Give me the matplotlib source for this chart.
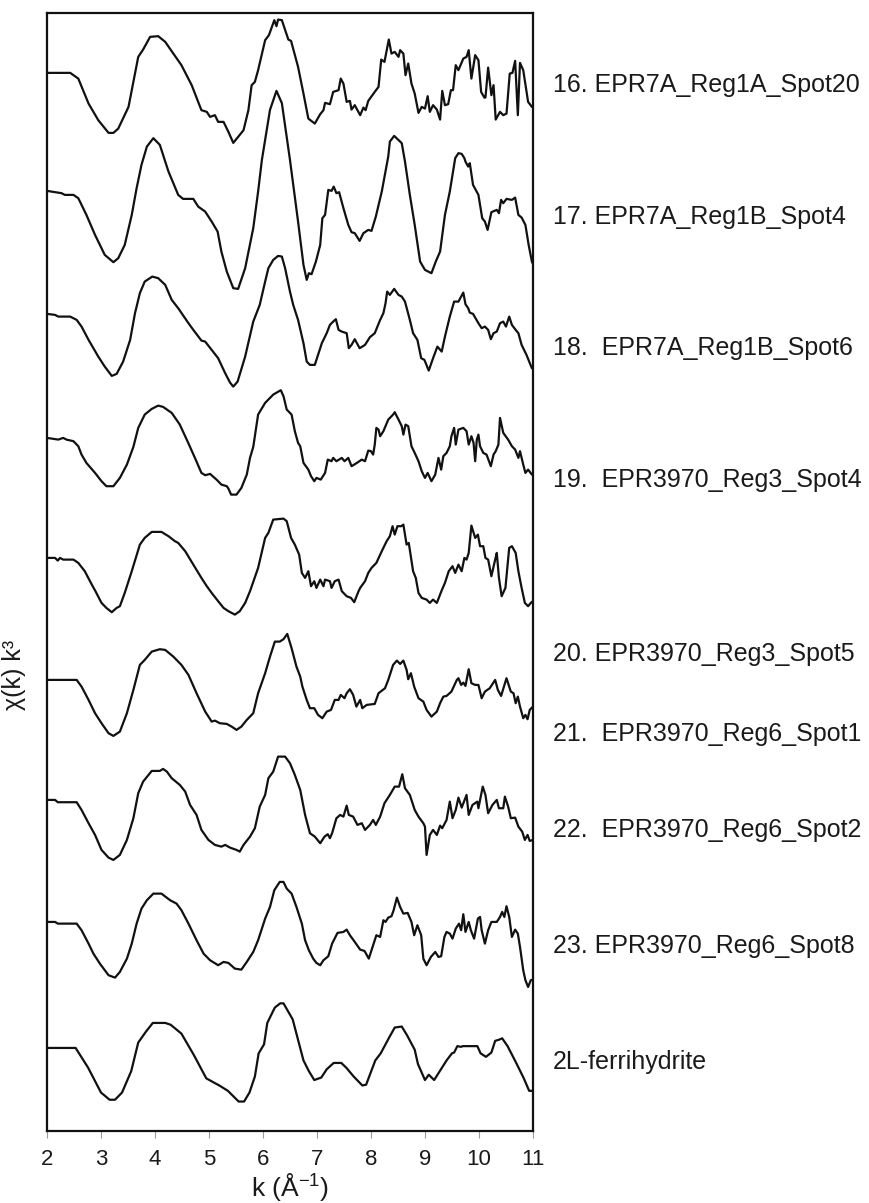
import numpy as np
import matplotlib
matplotlib.use('Agg')
import matplotlib.pyplot as plt

plt.rcParams['font.family'] = ['Liberation Sans', 'DejaVu Sans']
plt.rcParams['mathtext.fontset'] = 'custom'
plt.rcParams['mathtext.rm'] = 'Liberation Sans'
plt.rcParams['mathtext.it'] = 'Liberation Sans:italic'

# --------------------------------------------------------------------------- #
# chi(k) k^3 traces as (k, chi) samples, each relative to its own k=2 level
spec_16 = [(2.00, 0), (2.43, 0), (2.58, -0.57), (2.77, -3.07), (2.95, -4.73), (3.14, -6.0), (3.23, -6.0),
           (3.32, -5.57), (3.51, -3.4), (3.69, 1.6), (3.78, 2.33), (3.91, 3.6), (4.06, 3.67), (4.19, 3.1),
           (4.34, 1.93), (4.49, 0.77), (4.68, -1.23), (4.86, -3.73), (4.96, -3.9), (5.02, -4.4), (5.11, -4.23),
           (5.17, -4.9), (5.27, -4.9), (5.36, -5.9), (5.45, -7.0), (5.54, -6.4), (5.64, -5.73), (5.73, -3.73),
           (5.79, -1.23), (5.85, -0.9), (5.91, 0.27), (6.04, 3.27), (6.11, 3.77), (6.21, 5.27), (6.25, 4.67),
           (6.28, 5.33), (6.35, 5.27), (6.47, 3.33), (6.52, 3.2), (6.65, 0.6), (6.75, -2.07), (6.84, -4.57),
           (6.96, -5.07), (7.06, -4.13), (7.12, -3.73), (7.15, -3.0), (7.24, -3.13), (7.30, -1.9), (7.40, -1.73),
           (7.44, -0.57), (7.49, -1.07), (7.55, -2.9), (7.61, -2.8), (7.64, -3.67), (7.70, -3.23), (7.80, -4.23),
           (7.86, -3.47), (7.90, -3.73), (7.95, -2.8), (8.07, -1.9), (8.14, -1.4), (8.19, 1.33), (8.25, 1.1),
           (8.33, 3.33), (8.38, 1.93), (8.44, 2.1), (8.51, 1.6), (8.54, 2.27), (8.60, 1.93), (8.64, -0.23),
           (8.69, 0.93), (8.75, -1.07), (8.81, -2.07), (8.88, -4.0), (8.94, -3.4), (9.00, -3.57), (9.05, -2.33),
           (9.09, -3.9), (9.15, -3.23), (9.22, -3.67), (9.28, -4.67), (9.32, -1.8), (9.37, -3.23), (9.43, -3.13),
           (9.48, -1.73), (9.52, -1.73), (9.57, 0.77), (9.62, 0.27), (9.71, 1.43), (9.77, 1.6), (9.81, 2.27),
           (9.86, -0.57), (9.93, 1.77), (9.99, 1.27), (10.04, -1.9), (10.10, -2.47), (10.12, -2.47), (10.17, 0.53),
           (10.23, -2.23), (10.27, -1.23), (10.31, -4.67), (10.39, -3.9), (10.45, -4.23), (10.51, -4.07),
           (10.57, -0.07), (10.62, 0), (10.67, 1.2), (10.72, -4.23), (10.76, 1.0), (10.82, 0.27), (10.91, -2.9),
           (10.98, -3.4), (11.00, -3.4)]

spec_17 = [(2.00, 0), (2.27, -0.23), (2.33, -0.4), (2.49, -0.4), (2.58, -0.73), (2.73, -2.4), (2.89, -4.4),
           (2.98, -5.4), (3.07, -6.4), (3.23, -7.13), (3.32, -6.73), (3.44, -5.4), (3.57, -2.4), (3.66, 0.27),
           (3.75, 2.6), (3.85, 4.43), (3.97, 5.27), (4.09, 4.6), (4.15, 3.6), (4.25, 1.93), (4.34, 0.77),
           (4.43, -0.4), (4.52, -0.8), (4.71, -0.8), (4.80, -1.57), (4.93, -2.07), (5.05, -3.07), (5.16, -4.07),
           (5.23, -6.07), (5.33, -8.07), (5.45, -9.73), (5.54, -9.8), (5.67, -7.73), (5.82, -3.73), (5.91, -0.07),
           (5.98, 3.1), (6.13, 8.1), (6.25, 10.0), (6.35, 8.77), (6.50, 3.1), (6.65, -3.07), (6.75, -7.4),
           (6.81, -8.9), (6.85, -8.23), (6.90, -8.33), (6.98, -7.07), (7.06, -5.4), (7.10, -2.73), (7.15, -2.4),
           (7.21, 0.1), (7.27, 0), (7.31, 0.43), (7.36, -0.23), (7.41, -0.13), (7.49, -1.73), (7.58, -3.4),
           (7.64, -4.13), (7.70, -4.23), (7.79, -5.0), (7.86, -4.23), (7.95, -3.9), (8.01, -4.0), (8.09, -2.57),
           (8.20, -0.07), (8.32, 3.43), (8.35, 4.93), (8.43, 5.5), (8.57, 4.77), (8.63, 2.93), (8.72, -0.4),
           (8.81, -3.4), (8.91, -7.07), (9.00, -7.9), (9.12, -8.23), (9.20, -7.07), (9.28, -6.07), (9.37, -2.4),
           (9.46, -0.07), (9.56, 3.27), (9.62, 3.77), (9.68, 3.7), (9.73, 3.27), (9.75, 2.93), (9.80, 2.43),
           (9.83, 2.77), (9.89, 0.6), (9.99, -0.4), (10.06, -2.73), (10.11, -3.07), (10.16, -3.9), (10.23, -2.13),
           (10.33, -1.9), (10.37, -2.23), (10.41, -0.9), (10.45, -1.23), (10.51, -0.8), (10.61, -0.9),
           (10.67, -0.67), (10.73, -2.4), (10.79, -2.67), (10.86, -3.4), (10.92, -5.4), (10.98, -7.07), (11.00, -7.3)]

spec_18 = [(2.00, 0.1), (2.15, 0), (2.21, -0.17), (2.43, -0.17), (2.55, -0.5), (2.64, -1.17), (2.77, -2.5),
           (2.95, -4.17), (3.07, -5.17), (3.20, -6.1), (3.29, -5.9), (3.41, -4.67), (3.54, -2.5), (3.63, 0.17),
           (3.72, 2.17), (3.81, 3.33), (3.95, 3.83), (4.06, 3.67), (4.19, 3.0), (4.31, 1.5), (4.43, 0.67),
           (4.62, -0.83), (4.71, -1.5), (4.86, -2.57), (4.93, -2.67), (5.05, -3.5), (5.17, -4.33), (5.30, -5.83),
           (5.39, -6.77), (5.45, -7.17), (5.53, -6.67), (5.67, -4.17), (5.82, -0.67), (5.94, 1.0), (6.04, 3.33),
           (6.10, 4.67), (6.19, 5.5), (6.28, 5.9), (6.35, 5.83), (6.41, 4.67), (6.50, 2.33), (6.56, 1.0),
           (6.65, -0.5), (6.75, -2.83), (6.81, -4.67), (6.87, -5.0), (6.96, -5.0), (7.09, -2.83), (7.18, -1.83),
           (7.24, -1.0), (7.30, -0.67), (7.35, -0.43), (7.40, -1.5), (7.46, -1.67), (7.55, -1.83), (7.59, -3.33),
           (7.64, -3.0), (7.70, -2.43), (7.79, -3.33), (7.89, -3.0), (7.98, -2.23), (8.07, -1.83), (8.17, -0.5),
           (8.23, 0.17), (8.27, 1.17), (8.30, 2.33), (8.35, 2.0), (8.43, 2.6), (8.51, 2.0), (8.57, 1.83),
           (8.63, 1.33), (8.72, -0.5), (8.78, -1.83), (8.86, -2.5), (8.93, -4.33), (8.99, -4.5), (9.07, -5.57),
           (9.15, -4.33), (9.23, -3.17), (9.31, -3.67), (9.37, -2.17), (9.46, -0.17), (9.54, 1.33), (9.62, 1.33),
           (9.71, 2.23), (9.75, 1.07), (9.80, 0.67), (9.83, 0.23), (9.89, 0.1), (9.99, -0.83), (10.05, -1.33),
           (10.11, -1.17), (10.17, -1.5), (10.22, -2.43), (10.27, -1.83), (10.33, -1.67), (10.39, -0.83),
           (10.45, -0.67), (10.50, -1.17), (10.56, -0.17), (10.61, -1.0), (10.67, -1.43), (10.73, -1.83),
           (10.79, -3.0), (10.88, -4.0), (10.98, -5.33), (11.00, -5.4)]

spec_19 = [(2.00, 0), (2.21, -0.17), (2.30, 0), (2.36, -0.17), (2.49, -0.33), (2.58, -0.83), (2.64, -1.67),
           (2.73, -2.5), (2.89, -3.5), (3.01, -4.33), (3.10, -4.83), (3.23, -4.83), (3.35, -4.0), (3.48, -2.67),
           (3.60, -0.9), (3.69, 1.0), (3.81, 2.33), (3.94, 2.9), (4.06, 3.23), (4.15, 3.1), (4.31, 2.5),
           (4.46, 1.33), (4.62, -0.55), (4.74, -2.0), (4.86, -3.5), (4.93, -3.73), (5.02, -3.6), (5.14, -4.17),
           (5.23, -4.67), (5.33, -4.83), (5.36, -5.07), (5.41, -5.67), (5.51, -5.67), (5.60, -5.0), (5.70, -3.67),
           (5.76, -2.0), (5.82, -0.9), (5.91, 2.33), (6.04, 3.5), (6.19, 4.33), (6.33, 4.77), (6.38, 4.17),
           (6.44, 2.83), (6.53, 2.33), (6.59, 0.67), (6.65, -0.5), (6.69, -0.83), (6.75, -2.5), (6.84, -3.17),
           (6.89, -3.83), (6.95, -4.33), (6.99, -4.0), (7.07, -4.17), (7.15, -3.5), (7.20, -2.17), (7.27, -2.33),
           (7.30, -2.0), (7.36, -2.33), (7.46, -2.0), (7.51, -2.33), (7.58, -2.0), (7.64, -2.83), (7.74, -2.5),
           (7.83, -2.17), (7.89, -2.33), (7.95, -1.27), (8.00, -1.33), (8.04, -1.67), (8.07, -0.67), (8.10, 1.0),
           (8.14, 0.83), (8.17, 0.17), (8.23, 0.67), (8.32, 1.83), (8.41, 2.33), (8.44, 2.57), (8.51, 1.83),
           (8.57, 1.17), (8.60, 0.33), (8.64, 1.33), (8.69, 1.17), (8.75, -0.83), (8.81, -1.5), (8.88, -2.33),
           (8.94, -3.33), (9.00, -4.0), (9.05, -3.5), (9.12, -4.33), (9.19, -3.67), (9.25, -2.0), (9.30, -3.17),
           (9.34, -1.83), (9.40, -1.5), (9.46, -0.83), (9.49, 0.17), (9.54, 1.0), (9.57, -0.67), (9.62, 0.83),
           (9.71, 1.0), (9.77, 0.67), (9.81, -0.67), (9.86, 0.17), (9.90, -0.5), (9.93, -2.33), (9.96, -0.17),
           (9.99, 0.33), (10.02, -0.83), (10.08, -1.5), (10.14, -1.67), (10.22, -2.83), (10.27, -1.67),
           (10.31, -1.33), (10.36, -0.67), (10.39, 2.0), (10.45, 0.5), (10.54, -0.17), (10.61, -0.83),
           (10.67, -1.17), (10.73, -2.0), (10.76, -1.33), (10.82, -2.67), (10.86, -3.5), (10.91, -3.17),
           (10.98, -3.67), (11.00, -3.7)]

spec_20 = [(2.00, 0), (2.15, 0), (2.20, -0.27), (2.24, 0), (2.30, -0.17), (2.49, -0.17), (2.58, -0.5),
           (2.70, -1.33), (2.83, -2.67), (2.89, -3.25), (3.01, -4.5), (3.10, -5.0), (3.20, -5.43), (3.29, -5.0),
           (3.35, -4.83), (3.44, -3.5), (3.57, -1.33), (3.72, 1.33), (3.81, 2.0), (3.94, 2.6), (4.12, 2.6),
           (4.25, 2.17), (4.37, 1.67), (4.43, 1.5), (4.56, 0.67), (4.71, -0.67), (4.86, -2.0), (4.96, -2.83),
           (5.05, -3.5), (5.17, -4.33), (5.27, -5.0), (5.36, -5.33), (5.48, -5.67), (5.57, -5.33), (5.67, -4.5),
           (5.76, -3.33), (5.91, -1.0), (6.04, 2.0), (6.10, 2.5), (6.19, 3.83), (6.38, 3.93), (6.44, 3.67),
           (6.52, 2.0), (6.59, 1.33), (6.67, 0.33), (6.72, -1.5), (6.78, -2.0), (6.84, -1.33), (6.89, -2.83),
           (6.95, -2.33), (6.99, -3.0), (7.06, -2.17), (7.12, -2.83), (7.15, -2.17), (7.24, -2.33), (7.27, -3.0),
           (7.33, -2.33), (7.40, -2.17), (7.46, -3.33), (7.55, -3.83), (7.63, -4.0), (7.69, -4.43), (7.77, -3.33),
           (7.80, -3.0), (7.89, -2.33), (7.95, -1.5), (8.01, -1.0), (8.10, -0.5), (8.20, 0.67), (8.29, 1.67),
           (8.35, 2.17), (8.40, 3.17), (8.44, 2.33), (8.49, 3.17), (8.56, 3.17), (8.60, 3.33), (8.66, 1.33),
           (8.70, 1.5), (8.78, -1.33), (8.83, -2.0), (8.88, -3.5), (8.94, -4.0), (9.03, -4.17), (9.09, -4.5),
           (9.15, -4.17), (9.22, -4.5), (9.31, -3.25), (9.37, -2.5), (9.44, -1.33), (9.51, -0.83), (9.56, -1.5),
           (9.62, -0.67), (9.68, -1.33), (9.73, 0), (9.77, -0.17), (9.81, 0.5), (9.86, 3.23), (9.93, 2.0),
           (9.98, 2.33), (10.02, 1.17), (10.08, 1.17), (10.12, 0), (10.17, -0.17), (10.23, -1.83), (10.30, -0.17),
           (10.33, 0.5), (10.37, -2.0), (10.42, -3.83), (10.49, -3.0), (10.56, 1.0), (10.61, 1.17), (10.68, 0.5),
           (10.73, -1.33), (10.79, -3.0), (10.85, -4.5), (10.91, -4.83), (10.96, -4.5), (11.00, -4.33)]

spec_21 = [(2.00, 0), (2.55, 0), (2.64, -0.67), (2.77, -2.0), (2.89, -3.33), (3.01, -4.33), (3.14, -5.33),
           (3.23, -5.6), (3.35, -5.17), (3.48, -3.33), (3.60, -1.0), (3.72, 1.5), (3.81, 2.0), (3.94, 2.83),
           (4.09, 3.07), (4.19, 3.0), (4.34, 2.33), (4.49, 1.5), (4.62, 0.5), (4.77, -1.33), (4.93, -3.17),
           (5.05, -4.17), (5.11, -4.07), (5.20, -4.33), (5.33, -4.4), (5.42, -4.67), (5.51, -5.0), (5.60, -4.67),
           (5.70, -4.0), (5.82, -3.33), (5.91, -1.33), (6.04, 0.67), (6.13, 2.33), (6.22, 3.83), (6.31, 3.83),
           (6.38, 4.07), (6.45, 4.6), (6.53, 3.17), (6.62, 1.33), (6.69, 0.33), (6.73, -0.67), (6.81, -2.0),
           (6.87, -2.83), (6.95, -2.83), (7.02, -3.5), (7.10, -3.83), (7.18, -3.17), (7.26, -3.0), (7.33, -2.0),
           (7.40, -2.0), (7.44, -1.5), (7.51, -1.83), (7.55, -1.33), (7.61, -0.93), (7.67, -1.5), (7.73, -2.67),
           (7.80, -2.0), (7.84, -2.83), (7.92, -2.5), (8.07, -2.4), (8.14, -1.33), (8.26, -0.83), (8.32, 0),
           (8.41, 1.5), (8.48, 1.93), (8.54, 1.6), (8.60, 1.93), (8.66, 1.0), (8.69, 0.07), (8.74, 0.67),
           (8.80, -0.67), (8.88, -1.83), (8.97, -2.17), (9.03, -3.0), (9.12, -3.67), (9.22, -3.17), (9.28, -2.33),
           (9.34, -1.67), (9.40, -1.6), (9.49, -1.17), (9.59, 0), (9.62, 0.17), (9.67, -0.5), (9.71, -0.27),
           (9.75, -0.6), (9.81, 1.07), (9.86, -0.33), (9.93, -0.5), (9.99, -0.5), (10.05, -1.83), (10.11, -1.17),
           (10.20, -0.83), (10.30, 0), (10.35, -1.0), (10.41, -1.6), (10.51, 0.17), (10.59, -1.17),
           (10.64, -1.33), (10.68, -2.33), (10.72, -1.67), (10.76, -2.67), (10.82, -3.83), (10.86, -3.5),
           (10.90, -3.93), (10.94, -3.0), (11.00, -2.67)]

spec_22 = [(2.00, 0), (2.15, 0), (2.20, -0.23), (2.55, -0.23), (2.64, -1.0), (2.77, -2.33), (2.89, -3.5),
           (3.01, -5.0), (3.14, -5.77), (3.23, -6.0), (3.35, -5.5), (3.48, -4.0), (3.60, -1.83), (3.69, 0.67),
           (3.78, 1.83), (3.94, 2.9), (4.09, 2.9), (4.15, 3.1), (4.22, 2.83), (4.31, 2.17), (4.46, 1.5),
           (4.56, 0.83), (4.65, -0.5), (4.77, -1.5), (4.86, -3.0), (4.99, -4.0), (5.11, -4.5), (5.23, -4.67),
           (5.30, -4.5), (5.39, -4.77), (5.51, -5.0), (5.57, -5.17), (5.64, -4.5), (5.76, -3.67), (5.85, -2.83),
           (5.94, -0.67), (6.04, 0.5), (6.10, 2.17), (6.19, 2.83), (6.28, 4.33), (6.41, 4.33), (6.50, 3.67),
           (6.59, 2.5), (6.69, 1.0), (6.78, -1.5), (6.87, -3.33), (6.96, -3.67), (7.06, -4.33), (7.14, -3.67),
           (7.20, -3.43), (7.24, -3.83), (7.28, -3.33), (7.36, -1.83), (7.43, -1.5), (7.49, -1.67), (7.55, -0.57),
           (7.59, -1.5), (7.67, -1.67), (7.75, -2.5), (7.83, -2.33), (7.89, -3.0), (7.98, -2.5), (8.04, -2.0),
           (8.09, -2.5), (8.17, -1.67), (8.25, -0.33), (8.35, 0.5), (8.44, 1.33), (8.52, 1.33), (8.58, 2.57),
           (8.63, 1.17), (8.72, 0.5), (8.81, -1.0), (8.88, -1.67), (8.97, -2.33), (9.00, -2.67), (9.03, -5.5),
           (9.09, -3.5), (9.15, -3.0), (9.22, -3.5), (9.28, -2.57), (9.32, -2.83), (9.40, -2.0), (9.46, -0.17),
           (9.51, -1.83), (9.57, -1.0), (9.62, 0.23), (9.68, -0.77), (9.77, 0.5), (9.81, -1.5), (9.88, -0.5),
           (9.97, -0.17), (9.99, -0.83), (10.07, 1.33), (10.12, 0.5), (10.17, -1.33), (10.25, -0.5), (10.33, 0),
           (10.37, -0.83), (10.45, -0.83), (10.48, 0.33), (10.54, -0.67), (10.59, -1.83), (10.67, -1.77),
           (10.73, -2.67), (10.80, -3.17), (10.85, -4.0), (10.90, -3.5), (10.94, -4.1), (11.00, -4.0)]

spec_23 = [(2.00, 0), (2.15, 0), (2.20, -0.17), (2.55, -0.17), (2.64, -0.83), (2.77, -2.17), (2.86, -3.17),
           (2.98, -4.17), (3.14, -5.33), (3.26, -5.57), (3.35, -5.0), (3.48, -3.67), (3.57, -2.17), (3.66, -0.17),
           (3.75, 1.33), (3.85, 2.17), (3.97, 2.83), (4.12, 2.83), (4.28, 2.17), (4.40, 1.83), (4.49, 1.17),
           (4.62, -0.17), (4.77, -1.83), (4.90, -3.17), (5.02, -3.83), (5.17, -4.33), (5.27, -4.0), (5.36, -4.1),
           (5.48, -4.67), (5.60, -4.77), (5.70, -4.0), (5.82, -3.0), (5.91, -1.83), (6.04, 0.33), (6.13, 1.5),
           (6.21, 3.17), (6.31, 4.0), (6.38, 4.0), (6.44, 3.33), (6.53, 2.83), (6.62, 1.5), (6.72, -0.17),
           (6.78, -1.83), (6.85, -2.83), (6.93, -3.67), (6.99, -4.1), (7.06, -4.33), (7.12, -3.83), (7.21, -3.43),
           (7.28, -2.17), (7.38, -1.1), (7.49, -1.0), (7.55, -0.77), (7.61, -1.33), (7.70, -2.0), (7.80, -2.77),
           (7.88, -2.9), (7.96, -3.67), (8.04, -2.33), (8.10, -1.33), (8.17, -1.5), (8.23, 0.17), (8.27, 0),
           (8.32, 0.43), (8.38, 0.57), (8.42, 1.17), (8.48, 2.43), (8.54, 1.5), (8.60, 0.83), (8.68, 0.9),
           (8.75, 0), (8.80, -1.33), (8.86, -0.33), (8.93, -1.33), (8.97, -3.67), (9.03, -4.33), (9.11, -3.5),
           (9.19, -3.0), (9.25, -3.5), (9.30, -3.43), (9.36, -1.5), (9.40, -1.0), (9.46, -1.17), (9.51, -1.67),
           (9.57, -0.67), (9.63, -0.17), (9.67, -0.83), (9.71, 0.77), (9.75, -1.0), (9.81, 0), (9.85, -0.83),
           (9.91, -1.67), (9.98, 0.33), (10.02, 0.5), (10.05, -0.83), (10.11, -2.17), (10.17, -0.83), (10.23, 0),
           (10.33, 0), (10.39, 0.5), (10.43, 1.0), (10.47, 0.5), (10.51, 1.57), (10.56, 0.5), (10.61, -1.5),
           (10.67, -0.77), (10.72, -1.17), (10.76, -2.5), (10.82, -4.83), (10.86, -5.83), (10.91, -6.5),
           (10.96, -5.83), (11.00, -5.77)]

spec_2l = [(2.00, 0), (2.53, 0), (2.76, -1.96), (3.00, -4.46), (3.16, -5.18), (3.26, -5.18), (3.39, -4.46),
           (3.56, -2.32), (3.69, 0.54), (3.83, 1.61), (3.96, 2.5), (4.19, 2.5), (4.29, 2.32), (4.49, 1.43),
           (4.72, -0.71), (4.95, -3.04), (5.09, -3.46), (5.19, -3.75), (5.35, -4.29), (5.55, -5.36), (5.65, -5.36),
           (5.75, -4.46), (5.85, -2.86), (5.92, -0.54), (6.02, 0.36), (6.08, 2.5), (6.22, 4.04), (6.32, 4.46),
           (6.38, 4.46), (6.55, 2.86), (6.75, -1.25), (6.85, -2.32), (6.95, -3.21), (7.08, -2.96), (7.18, -2.14),
           (7.31, -1.5), (7.45, -1.5), (7.54, -1.96), (7.68, -2.86), (7.84, -3.75), (7.91, -3.68), (8.08, -1.25),
           (8.18, -0.54), (8.34, 1.07), (8.44, 2.04), (8.57, 2.14), (8.67, 1.25), (8.81, -0.18), (8.87, -1.61),
           (9.00, -3.21), (9.07, -2.68), (9.17, -3.21), (9.40, -1.25), (9.50, -0.54), (9.54, -0.46), (9.60, 0.18),
           (9.67, 0.11), (9.70, 0.18), (9.97, 0.18), (10.03, -0.54), (10.13, -0.89), (10.23, -0.46), (10.30, 0.71),
           (10.37, 0.82), (10.43, 0.96), (10.53, 0.18), (10.70, -1.61), (10.83, -3.04), (10.93, -4.29),
           (11.00, -4.29)]

spectra = [spec_16, spec_17, spec_18, spec_19, spec_20, spec_21, spec_22, spec_23, spec_2l]
names = ['16. EPR7A_Reg1A_Spot20', '17. EPR7A_Reg1B_Spot4', '18.  EPR7A_Reg1B_Spot6',
         '19.  EPR3970_Reg3_Spot4', '20. EPR3970_Reg3_Spot5', '21.  EPR3970_Reg6_Spot1',
         '22.  EPR3970_Reg6_Spot2', '23. EPR3970_Reg6_Spot8', '2L-ferrihydrite']
k_ticks = [2, 3, 4, 5, 6, 7, 8, 9, 10, 11]

# vertical stacking and where each name sits
offsets = [106.2, 94.4, 82.0, 69.7, 57.7, 45.5, 33.5, 21.3, 8.7]
label_y = [105.0, 91.8, 78.7, 65.5, 48.1, 40.1, 30.5, 18.9, 7.3]

# --------------------------------------------------------------------------- #
fig = plt.figure(figsize=(8.7, 12.03), dpi=100)
ax = fig.add_axes([0.054, 0.0599, 0.5586, 0.9294])

for spec, off, name, ly in zip(spectra, offsets, names, label_y):
    k, chi = np.array(spec).T
    ax.plot(k, chi + off, color='#111111', lw=1.6, solid_joinstyle='round')
    ax.text(1.041, ly, name, transform=ax.get_yaxis_transform(), fontsize=18,
            color='#1a1a1a', ha='left', va='center')

ax.set_xlim(2, 11)
ax.set_ylim(0.4, 112.2)
ax.set_xticks(k_ticks)
ax.set_yticks([])
ax.tick_params(axis='x', direction='out', length=5, width=0.8, color='#999999',
               labelsize=16, pad=8, labelcolor='#1a1a1a')
for s in ax.spines.values():
    s.set_linewidth(1.6)
    s.set_color('#111111')

ax.set_xlabel('k (Å$^{-1}$)', fontsize=19, color='#1a1a1a')
ax.xaxis.set_label_coords(0.5, -0.036)
ax.set_ylabel('χ(k) k³', fontsize=18, color='#1a1a1a')
ax.yaxis.set_label_coords(-0.043, 0.408)

fig.savefig('out.png', dpi=100, facecolor='white')
